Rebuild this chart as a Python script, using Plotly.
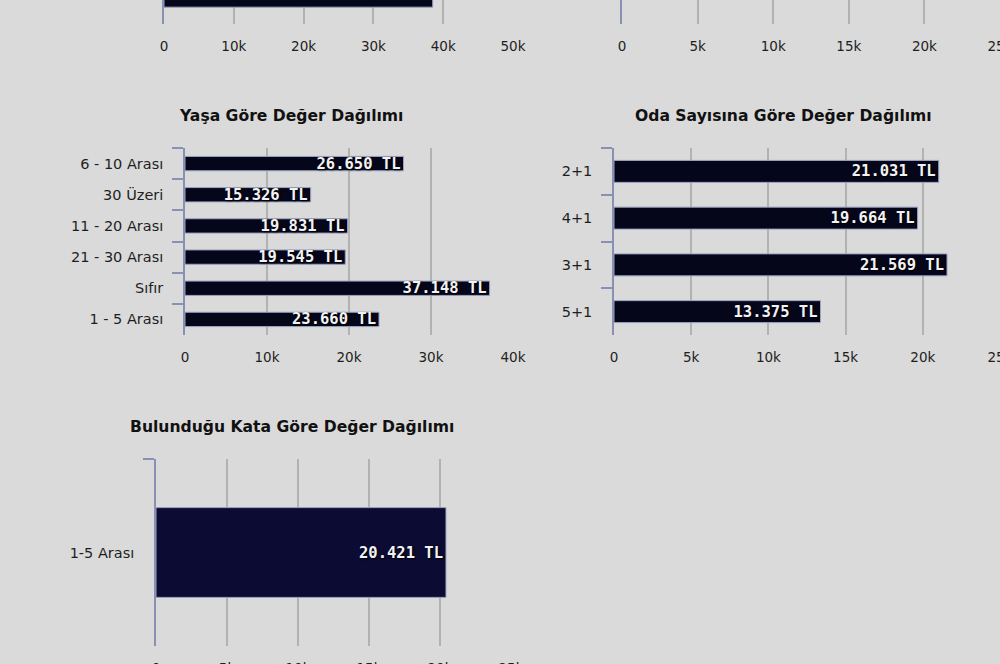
import plotly.graph_objects as go

# ---- data ----
# top row panels are cropped in the reference: only the lowest bar of the left one is visible
ust_sol_kategoriler = ["Daire", "Rezidans", "Müstakil"]
ust_sol_degerler = [29500, 33800, 38500]
ust_sag_kategoriler = ["Var", "Yok"]
ust_sag_degerler = [21500, 19800]

yas_kategoriler = ["6 - 10 Arası", "30 Üzeri", "11 - 20 Arası", "21 - 30 Arası", "Sıfır", "1 - 5 Arası"]
yas_degerler = [26650, 15326, 19831, 19545, 37148, 23660]

oda_kategoriler = ["2+1", "4+1", "3+1", "5+1"]
oda_degerler = [21031, 19664, 21569, 13375]

kat_kategoriler = ["1-5 Arası"]
kat_degerler = [20421]

BG = "#dadada"
BAR = "#06061b"
BAR2 = "#0b0b34"
EDGE = "#9aa3c2"
AXIS = "#8891b3"
GRID = "#b2b2b2"
TXT = "#1e1e1e"

H = 664.0
FULL_PX = 187.0  # full plot height of one panel

fig = go.Figure()

panels = [
    # (suffix, cats, vals, xdomain, ydomain, xmax, dtick, color, width, visible_px, show_text)
    ("", ust_sol_kategoriler, ust_sol_degerler, [0.164, 0.513], [1 - 24 / H, 1.0], 50000, 10000, BAR, 0.46, 24, False),
    ("2", ust_sag_kategoriler, ust_sag_degerler, [0.622, 1.0], [1 - 24 / H, 1.0], 25000, 5000, BAR, 0.46, 24, False),
    ("3", yas_kategoriler, yas_degerler, [0.185, 0.513], [1 - 335 / H, 1 - 148 / H], 40000, 10000, BAR, 0.46, None, True),
    ("4", oda_kategoriler, oda_degerler, [0.614, 1.0], [1 - 335 / H, 1 - 148 / H], 25000, 5000, BAR, 0.47, None, True),
    ("5", kat_kategoriler, kat_degerler, [0.156, 0.511], [1 - 646 / H, 1 - 459 / H], 25000, 5000, BAR2, 0.48, None, True),
]

for suf, cats, vals, xd, yd, xmax, dt, col, w, vis, show_text in panels:
    fig.add_trace(go.Bar(
        x=vals, y=cats, orientation="h",
        xaxis="x" + suf, yaxis="y" + suf,
        width=w,
        marker=dict(color=col, line=dict(color=EDGE, width=1)),
        texttemplate="%{x:,} TL" if show_text else None,
        textposition="inside" if show_text else "none",
        insidetextanchor="end",
        constraintext="none",
        textfont=dict(family="DejaVu Sans Mono", size=15.5, color="#f2f2f2",
                      weight="bold", shadow="1px 1px 2px #000"),
        cliponaxis=True,
        showlegend=False,
        hoverinfo="skip",
    ))
    n = len(cats)
    if vis is None:
        yrange = [n - 0.5, -0.5]
    else:
        yrange = [n - 0.5, n - 0.5 - n * vis / FULL_PX]
    fig.update_layout(**{
        "xaxis" + suf: dict(
            domain=xd, range=[0, xmax], dtick=dt, anchor="y" + suf,
            showgrid=True, gridcolor=GRID, gridwidth=1.6,
            zeroline=False, showline=False, ticks="",
            tickfont=dict(family="DejaVu Sans", size=13.5, color=TXT),
            ticklabelstandoff=12, ticklabeloverflow="allow",
            fixedrange=True, automargin=False,
        ),
        "yaxis" + suf: dict(
            domain=yd, range=yrange, type="category", anchor="x" + suf,
            showgrid=False, zeroline=False,
            showline=True, linecolor=AXIS, linewidth=1.6,
            ticks="outside", tickson="boundaries", ticklen=11, tickcolor=AXIS, tickwidth=1.6,
            tickfont=dict(family="DejaVu Sans", size=14.5, color=TXT),
            ticklabelstandoff=17, fixedrange=True, automargin=False,
        ),
    })

titles = [
    ("Yaşa Göre Değer Dağılımı", 291, 116),
    ("Oda Sayısına Göre Değer Dağılımı", 783, 116),
    ("Bulunduğu Kata Göre Değer Dağılımı", 292, 427),
]
for t, xp, yp in titles:
    fig.add_annotation(text="<b>" + t + "</b>", x=xp / 1000.0, y=1 - yp / H,
                       xref="paper", yref="paper", showarrow=False,
                       xanchor="center", yanchor="middle",
                       font=dict(family="DejaVu Sans", size=15.6, color="#111"))

fig.update_layout(
    width=1000, height=664,
    margin=dict(l=0, r=0, t=0, b=0, autoexpand=False),
    paper_bgcolor=BG, plot_bgcolor=BG,
    separators=",.",
)

fig.write_html(
    "out.html",
    config={"displayModeBar": False},
    post_script="document.body.style.margin='0';document.body.style.background='" + BG + "';",
)
